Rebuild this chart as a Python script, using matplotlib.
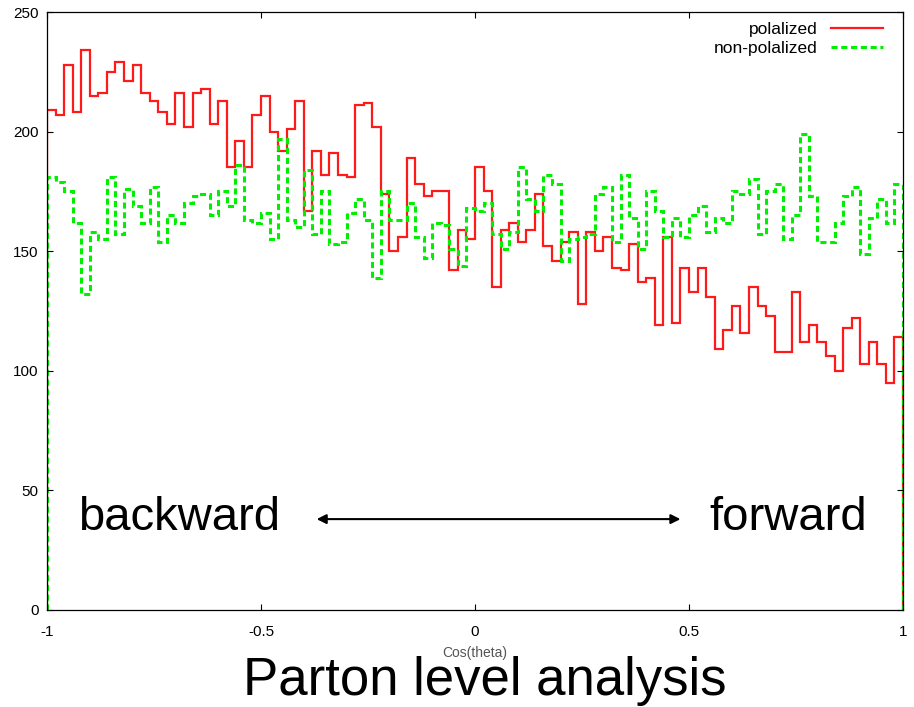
import numpy as np
import matplotlib
matplotlib.use("Agg")
import matplotlib.pyplot as plt

plt.rcParams['font.family'] = ['Liberation Sans', 'DejaVu Sans']

# Histogramm: 100 bins von cos(theta) = -1 bis 1
bin_edges = np.linspace(-1, 1, 101)

polalized = [209, 207, 228, 208, 234, 215, 216, 225, 229, 221,
             228, 216, 213, 208, 203, 216, 202, 216, 218, 203,
             213, 185, 196, 185, 207, 215, 200, 192, 201, 213,
             167, 192, 182, 191, 182, 181, 211, 212, 202, 174,
             150, 156, 189, 178, 173, 175, 175, 142, 159, 155,
             185, 175, 135, 159, 162, 154, 159, 174, 152, 146,
             154, 158, 128, 158, 150, 156, 143, 142, 153, 137,
             139, 119, 156, 120, 143, 133, 143, 131, 109, 117,
             127, 116, 135, 127, 123, 108, 108, 133, 112, 119,
             112, 106, 100, 118, 122, 103, 112, 103, 95, 114]

non_polalized = [181, 179, 175, 162, 132, 158, 155, 181, 157, 176,
                 169, 162, 177, 154, 165, 162, 170, 173, 174, 165,
                 175, 169, 186, 163, 162, 166, 155, 197, 163, 160,
                 184, 157, 175, 153, 154, 166, 172, 163, 139, 175,
                 163, 163, 170, 156, 147, 162, 161, 151, 144, 168,
                 167, 170, 157, 151, 158, 185, 172, 167, 182, 178,
                 146, 155, 156, 157, 174, 177, 154, 182, 164, 151,
                 175, 167, 156, 164, 156, 165, 169, 158, 164, 162,
                 175, 174, 180, 157, 175, 178, 155, 165, 199, 173,
                 154, 154, 162, 173, 177, 149, 164, 172, 162, 178]

x_ticks = [-1, -0.5, 0, 0.5, 1]
x_tick_labels = ['-1', '-0.5', '0', '0.5', '1']
y_ticks = [0, 50, 100, 150, 200, 250]

fig = plt.figure(figsize=(9.14, 7.07), dpi=100)
ax = fig.add_axes([0.0514, 0.1372, 0.9366, 0.8458])

ax.stairs(polalized, bin_edges, baseline=0, color='#ff1a1a', lw=1.6,
          label='polalized')
ax.stairs(non_polalized, bin_edges, baseline=0, color='#00ee00', lw=2.2,
          linestyle=(0, (2, 1.2)), label='non-polalized')

ax.set_xlim(-1, 1)
ax.set_ylim(0, 250)
ax.set_xticks(x_ticks)
ax.set_xticklabels(x_tick_labels)
ax.set_yticks(y_ticks)
ax.tick_params(direction='in', top=True, right=True, length=4.5, width=0.8,
               labelsize=11)
ax.tick_params(axis='x', pad=11)
ax.tick_params(axis='y', pad=6)
for s in ax.spines.values():
    s.set_linewidth(0.9)

ax.set_xlabel('Cos(theta)', fontsize=10, color='#555555', labelpad=5)

leg = ax.legend(loc='upper right', bbox_to_anchor=(0.977, 0.983),
                frameon=False, markerfirst=False, fontsize=12.5,
                handlelength=3.0, handletextpad=0.8, labelspacing=0.2,
                borderaxespad=0, borderpad=0)

# Beschriftungen im Plot
ax.text(-0.692, 38.5, 'backward', fontsize=34, ha='center', va='center')
ax.text(0.731, 38.5, 'forward', fontsize=34, ha='center', va='center')
ax.annotate('', xy=(0.48, 38), xytext=(-0.37, 38),
            arrowprops=dict(arrowstyle='<|-|>', color='black', lw=1.5,
                            mutation_scale=14, shrinkA=0, shrinkB=0))

fig.text(0.53, 0.037, 'Parton level analysis', fontsize=38,
         ha='center', va='center')

fig.savefig('out.png', dpi=100)
